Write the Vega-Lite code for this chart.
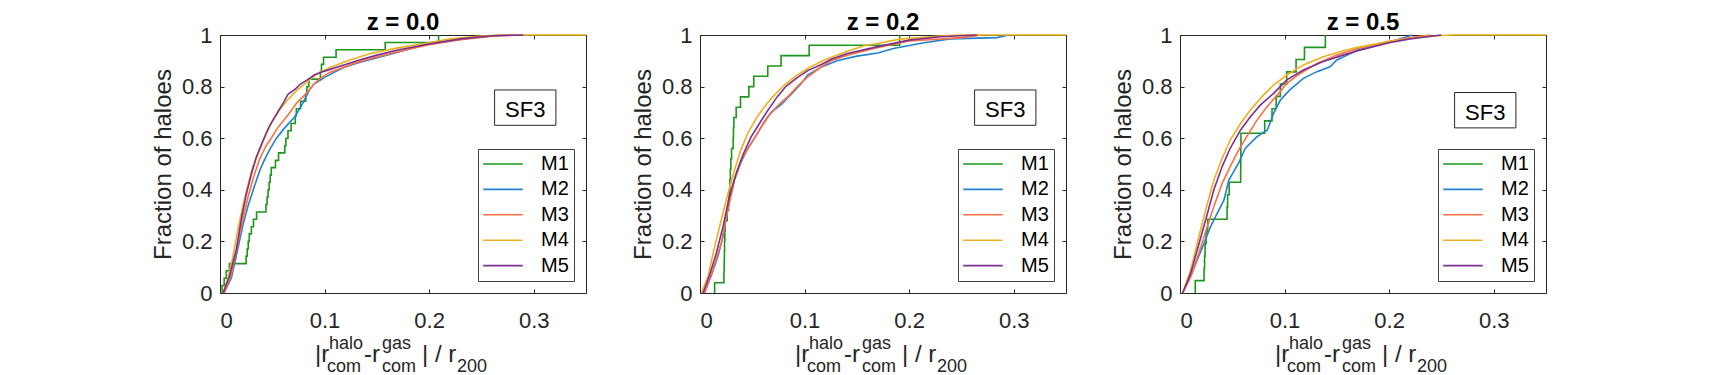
{
 "$schema": "https://vega.github.io/schema/vega-lite/v6.json",
 "background": "white",
 "padding": {"left": 150, "top": 10, "right": 0, "bottom": 0},
 "bounds": "flush",
 "spacing": 114,
 "datasets": {
  "cdf": [
   {"z":"0.0","m":"M1","x":0.002,"y":0},{"z":"0.0","m":"M1","x":0.002,"y":0.029},{"z":"0.0","m":"M1","x":0.004,"y":0.057},{"z":"0.0","m":"M1","x":0.006,"y":0.086},{"z":"0.0","m":"M1","x":0.009,"y":0.114},{"z":"0.0","m":"M1","x":0.025,"y":0.143},{"z":"0.0","m":"M1","x":0.026,"y":0.171},{"z":"0.0","m":"M1","x":0.027,"y":0.2},{"z":"0.0","m":"M1","x":0.028,"y":0.229},{"z":"0.0","m":"M1","x":0.03,"y":0.257},{"z":"0.0","m":"M1","x":0.032,"y":0.286},{"z":"0.0","m":"M1","x":0.035,"y":0.314},{"z":"0.0","m":"M1","x":0.044,"y":0.343},{"z":"0.0","m":"M1","x":0.045,"y":0.371},{"z":"0.0","m":"M1","x":0.046,"y":0.4},{"z":"0.0","m":"M1","x":0.047,"y":0.429},{"z":"0.0","m":"M1","x":0.048,"y":0.457},{"z":"0.0","m":"M1","x":0.049,"y":0.486},{"z":"0.0","m":"M1","x":0.053,"y":0.514},{"z":"0.0","m":"M1","x":0.056,"y":0.543},{"z":"0.0","m":"M1","x":0.062,"y":0.571},{"z":"0.0","m":"M1","x":0.063,"y":0.6},{"z":"0.0","m":"M1","x":0.065,"y":0.629},{"z":"0.0","m":"M1","x":0.068,"y":0.657},{"z":"0.0","m":"M1","x":0.072,"y":0.686},{"z":"0.0","m":"M1","x":0.073,"y":0.714},{"z":"0.0","m":"M1","x":0.077,"y":0.743},{"z":"0.0","m":"M1","x":0.082,"y":0.771},{"z":"0.0","m":"M1","x":0.083,"y":0.8},{"z":"0.0","m":"M1","x":0.085,"y":0.829},{"z":"0.0","m":"M1","x":0.096,"y":0.857},{"z":"0.0","m":"M1","x":0.097,"y":0.886},{"z":"0.0","m":"M1","x":0.099,"y":0.914},{"z":"0.0","m":"M1","x":0.111,"y":0.943},{"z":"0.0","m":"M1","x":0.158,"y":0.971},{"z":"0.0","m":"M1","x":0.209,"y":1.0},
   {"z":"0.0","m":"M2","x":0.004,"y":0},{"z":"0.0","m":"M2","x":0.011,"y":0.06},{"z":"0.0","m":"M2","x":0.017,"y":0.17},{"z":"0.0","m":"M2","x":0.022,"y":0.265},{"z":"0.0","m":"M2","x":0.027,"y":0.34},{"z":"0.0","m":"M2","x":0.033,"y":0.415},{"z":"0.0","m":"M2","x":0.038,"y":0.475},{"z":"0.0","m":"M2","x":0.0425,"y":0.516},{"z":"0.0","m":"M2","x":0.048,"y":0.56},{"z":"0.0","m":"M2","x":0.054,"y":0.6},{"z":"0.0","m":"M2","x":0.0616,"y":0.639},{"z":"0.0","m":"M2","x":0.071,"y":0.68},{"z":"0.0","m":"M2","x":0.077,"y":0.72},{"z":"0.0","m":"M2","x":0.0806,"y":0.748},{"z":"0.0","m":"M2","x":0.086,"y":0.79},{"z":"0.0","m":"M2","x":0.09,"y":0.81},{"z":"0.0","m":"M2","x":0.0997,"y":0.835},{"z":"0.0","m":"M2","x":0.11,"y":0.857},{"z":"0.0","m":"M2","x":0.119,"y":0.875},{"z":"0.0","m":"M2","x":0.13,"y":0.89},{"z":"0.0","m":"M2","x":0.144,"y":0.905},{"z":"0.0","m":"M2","x":0.163,"y":0.925},{"z":"0.0","m":"M2","x":0.18,"y":0.945},{"z":"0.0","m":"M2","x":0.198,"y":0.965},{"z":"0.0","m":"M2","x":0.233,"y":0.985},{"z":"0.0","m":"M2","x":0.27,"y":1.0},
   {"z":"0.0","m":"M3","x":0.004,"y":0},{"z":"0.0","m":"M3","x":0.011,"y":0.075},{"z":"0.0","m":"M3","x":0.017,"y":0.19},{"z":"0.0","m":"M3","x":0.022,"y":0.29},{"z":"0.0","m":"M3","x":0.027,"y":0.375},{"z":"0.0","m":"M3","x":0.033,"y":0.46},{"z":"0.0","m":"M3","x":0.038,"y":0.52},{"z":"0.0","m":"M3","x":0.044,"y":0.57},{"z":"0.0","m":"M3","x":0.049,"y":0.6},{"z":"0.0","m":"M3","x":0.055,"y":0.64},{"z":"0.0","m":"M3","x":0.065,"y":0.69},{"z":"0.0","m":"M3","x":0.074,"y":0.74},{"z":"0.0","m":"M3","x":0.0806,"y":0.765},{"z":"0.0","m":"M3","x":0.09,"y":0.81},{"z":"0.0","m":"M3","x":0.0965,"y":0.835},{"z":"0.0","m":"M3","x":0.105,"y":0.855},{"z":"0.0","m":"M3","x":0.112,"y":0.865},{"z":"0.0","m":"M3","x":0.128,"y":0.89},{"z":"0.0","m":"M3","x":0.147,"y":0.912},{"z":"0.0","m":"M3","x":0.17,"y":0.935},{"z":"0.0","m":"M3","x":0.2,"y":0.962},{"z":"0.0","m":"M3","x":0.23,"y":0.982},{"z":"0.0","m":"M3","x":0.26,"y":0.995},{"z":"0.0","m":"M3","x":0.28,"y":1.0},
   {"z":"0.0","m":"M4","x":0.003,"y":0},{"z":"0.0","m":"M4","x":0.0076,"y":0.058},{"z":"0.0","m":"M4","x":0.0124,"y":0.142},{"z":"0.0","m":"M4","x":0.017,"y":0.245},{"z":"0.0","m":"M4","x":0.022,"y":0.34},{"z":"0.0","m":"M4","x":0.0267,"y":0.42},{"z":"0.0","m":"M4","x":0.031,"y":0.485},{"z":"0.0","m":"M4","x":0.038,"y":0.555},{"z":"0.0","m":"M4","x":0.044,"y":0.615},{"z":"0.0","m":"M4","x":0.05,"y":0.665},{"z":"0.0","m":"M4","x":0.057,"y":0.71},{"z":"0.0","m":"M4","x":0.065,"y":0.75},{"z":"0.0","m":"M4","x":0.074,"y":0.787},{"z":"0.0","m":"M4","x":0.084,"y":0.82},{"z":"0.0","m":"M4","x":0.093,"y":0.85},{"z":"0.0","m":"M4","x":0.106,"y":0.875},{"z":"0.0","m":"M4","x":0.122,"y":0.9},{"z":"0.0","m":"M4","x":0.144,"y":0.928},{"z":"0.0","m":"M4","x":0.17,"y":0.95},{"z":"0.0","m":"M4","x":0.2,"y":0.97},{"z":"0.0","m":"M4","x":0.22,"y":0.985},{"z":"0.0","m":"M4","x":0.25,"y":0.996},{"z":"0.0","m":"M4","x":0.27,"y":1.0},{"z":"0.0","m":"M4","x":0.35,"y":1.0},
   {"z":"0.0","m":"M5","x":0.003,"y":0},{"z":"0.0","m":"M5","x":0.009,"y":0.065},{"z":"0.0","m":"M5","x":0.0156,"y":0.168},{"z":"0.0","m":"M5","x":0.0203,"y":0.284},{"z":"0.0","m":"M5","x":0.025,"y":0.38},{"z":"0.0","m":"M5","x":0.03,"y":0.46},{"z":"0.0","m":"M5","x":0.0346,"y":0.525},{"z":"0.0","m":"M5","x":0.041,"y":0.59},{"z":"0.0","m":"M5","x":0.047,"y":0.645},{"z":"0.0","m":"M5","x":0.055,"y":0.7},{"z":"0.0","m":"M5","x":0.061,"y":0.74},{"z":"0.0","m":"M5","x":0.065,"y":0.77},{"z":"0.0","m":"M5","x":0.072,"y":0.79},{"z":"0.0","m":"M5","x":0.077,"y":0.81},{"z":"0.0","m":"M5","x":0.085,"y":0.83},{"z":"0.0","m":"M5","x":0.09,"y":0.845},{"z":"0.0","m":"M5","x":0.1,"y":0.86},{"z":"0.0","m":"M5","x":0.1155,"y":0.88},{"z":"0.0","m":"M5","x":0.131,"y":0.9},{"z":"0.0","m":"M5","x":0.15,"y":0.922},{"z":"0.0","m":"M5","x":0.17,"y":0.942},{"z":"0.0","m":"M5","x":0.2,"y":0.965},{"z":"0.0","m":"M5","x":0.23,"y":0.985},{"z":"0.0","m":"M5","x":0.26,"y":0.997},{"z":"0.0","m":"M5","x":0.29,"y":1.0},

   {"z":"0.2","m":"M1","x":0.014,"y":0},{"z":"0.2","m":"M1","x":0.014,"y":0.04},{"z":"0.2","m":"M1","x":0.0229,"y":0.08},{"z":"0.2","m":"M1","x":0.0231,"y":0.12},{"z":"0.2","m":"M1","x":0.0233,"y":0.16},{"z":"0.2","m":"M1","x":0.0235,"y":0.2},{"z":"0.2","m":"M1","x":0.0237,"y":0.24},{"z":"0.2","m":"M1","x":0.024,"y":0.28},{"z":"0.2","m":"M1","x":0.026,"y":0.32},{"z":"0.2","m":"M1","x":0.0273,"y":0.36},{"z":"0.2","m":"M1","x":0.028,"y":0.4},{"z":"0.2","m":"M1","x":0.0286,"y":0.44},{"z":"0.2","m":"M1","x":0.029,"y":0.48},{"z":"0.2","m":"M1","x":0.0295,"y":0.52},{"z":"0.2","m":"M1","x":0.0302,"y":0.56},{"z":"0.2","m":"M1","x":0.0317,"y":0.6},{"z":"0.2","m":"M1","x":0.032,"y":0.64},{"z":"0.2","m":"M1","x":0.0324,"y":0.68},{"z":"0.2","m":"M1","x":0.0346,"y":0.72},{"z":"0.2","m":"M1","x":0.0387,"y":0.76},{"z":"0.2","m":"M1","x":0.0467,"y":0.8},{"z":"0.2","m":"M1","x":0.0514,"y":0.84},{"z":"0.2","m":"M1","x":0.0648,"y":0.88},{"z":"0.2","m":"M1","x":0.0775,"y":0.92},{"z":"0.2","m":"M1","x":0.1044,"y":0.96},{"z":"0.2","m":"M1","x":0.191,"y":1.0},
   {"z":"0.2","m":"M2","x":0.0044,"y":0},{"z":"0.2","m":"M2","x":0.0124,"y":0.085},{"z":"0.2","m":"M2","x":0.017,"y":0.14},{"z":"0.2","m":"M2","x":0.022,"y":0.218},{"z":"0.2","m":"M2","x":0.025,"y":0.29},{"z":"0.2","m":"M2","x":0.028,"y":0.36},{"z":"0.2","m":"M2","x":0.033,"y":0.44},{"z":"0.2","m":"M2","x":0.039,"y":0.505},{"z":"0.2","m":"M2","x":0.0457,"y":0.56},{"z":"0.2","m":"M2","x":0.0537,"y":0.61},{"z":"0.2","m":"M2","x":0.0616,"y":0.665},{"z":"0.2","m":"M2","x":0.068,"y":0.7},{"z":"0.2","m":"M2","x":0.0775,"y":0.73},{"z":"0.2","m":"M2","x":0.087,"y":0.77},{"z":"0.2","m":"M2","x":0.0965,"y":0.81},{"z":"0.2","m":"M2","x":0.103,"y":0.845},{"z":"0.2","m":"M2","x":0.1156,"y":0.875},{"z":"0.2","m":"M2","x":0.131,"y":0.9},{"z":"0.2","m":"M2","x":0.15,"y":0.918},{"z":"0.2","m":"M2","x":0.17,"y":0.93},{"z":"0.2","m":"M2","x":0.185,"y":0.948},{"z":"0.2","m":"M2","x":0.214,"y":0.97},{"z":"0.2","m":"M2","x":0.239,"y":0.985},{"z":"0.2","m":"M2","x":0.284,"y":0.99},{"z":"0.2","m":"M2","x":0.295,"y":1.0},
   {"z":"0.2","m":"M3","x":0.0044,"y":0},{"z":"0.2","m":"M3","x":0.0124,"y":0.09},{"z":"0.2","m":"M3","x":0.0203,"y":0.193},{"z":"0.2","m":"M3","x":0.0267,"y":0.322},{"z":"0.2","m":"M3","x":0.033,"y":0.438},{"z":"0.2","m":"M3","x":0.041,"y":0.528},{"z":"0.2","m":"M3","x":0.049,"y":0.58},{"z":"0.2","m":"M3","x":0.057,"y":0.632},{"z":"0.2","m":"M3","x":0.065,"y":0.683},{"z":"0.2","m":"M3","x":0.074,"y":0.725},{"z":"0.2","m":"M3","x":0.084,"y":0.761},{"z":"0.2","m":"M3","x":0.093,"y":0.8},{"z":"0.2","m":"M3","x":0.103,"y":0.838},{"z":"0.2","m":"M3","x":0.1156,"y":0.875},{"z":"0.2","m":"M3","x":0.125,"y":0.9},{"z":"0.2","m":"M3","x":0.141,"y":0.922},{"z":"0.2","m":"M3","x":0.166,"y":0.948},{"z":"0.2","m":"M3","x":0.2,"y":0.977},{"z":"0.2","m":"M3","x":0.25,"y":0.99},{"z":"0.2","m":"M3","x":0.27,"y":1.0},
   {"z":"0.2","m":"M4","x":0.0013,"y":0},{"z":"0.2","m":"M4","x":0.0076,"y":0.063},{"z":"0.2","m":"M4","x":0.014,"y":0.18},{"z":"0.2","m":"M4","x":0.0203,"y":0.283},{"z":"0.2","m":"M4","x":0.0267,"y":0.386},{"z":"0.2","m":"M4","x":0.033,"y":0.477},{"z":"0.2","m":"M4","x":0.039,"y":0.554},{"z":"0.2","m":"M4","x":0.0457,"y":0.619},{"z":"0.2","m":"M4","x":0.0537,"y":0.677},{"z":"0.2","m":"M4","x":0.0616,"y":0.722},{"z":"0.2","m":"M4","x":0.071,"y":0.767},{"z":"0.2","m":"M4","x":0.0806,"y":0.806},{"z":"0.2","m":"M4","x":0.093,"y":0.845},{"z":"0.2","m":"M4","x":0.106,"y":0.877},{"z":"0.2","m":"M4","x":0.119,"y":0.903},{"z":"0.2","m":"M4","x":0.141,"y":0.937},{"z":"0.2","m":"M4","x":0.157,"y":0.958},{"z":"0.2","m":"M4","x":0.17,"y":0.967},{"z":"0.2","m":"M4","x":0.191,"y":0.984},{"z":"0.2","m":"M4","x":0.229,"y":0.996},{"z":"0.2","m":"M4","x":0.25,"y":1.0},{"z":"0.2","m":"M4","x":0.35,"y":1.0},
   {"z":"0.2","m":"M5","x":0.0029,"y":0},{"z":"0.2","m":"M5","x":0.0092,"y":0.07},{"z":"0.2","m":"M5","x":0.0156,"y":0.154},{"z":"0.2","m":"M5","x":0.022,"y":0.257},{"z":"0.2","m":"M5","x":0.028,"y":0.373},{"z":"0.2","m":"M5","x":0.0346,"y":0.464},{"z":"0.2","m":"M5","x":0.041,"y":0.535},{"z":"0.2","m":"M5","x":0.049,"y":0.606},{"z":"0.2","m":"M5","x":0.057,"y":0.658},{"z":"0.2","m":"M5","x":0.065,"y":0.709},{"z":"0.2","m":"M5","x":0.074,"y":0.761},{"z":"0.2","m":"M5","x":0.082,"y":0.8},{"z":"0.2","m":"M5","x":0.093,"y":0.835},{"z":"0.2","m":"M5","x":0.103,"y":0.862},{"z":"0.2","m":"M5","x":0.1156,"y":0.885},{"z":"0.2","m":"M5","x":0.125,"y":0.905},{"z":"0.2","m":"M5","x":0.141,"y":0.928},{"z":"0.2","m":"M5","x":0.17,"y":0.955},{"z":"0.2","m":"M5","x":0.2,"y":0.98},{"z":"0.2","m":"M5","x":0.23,"y":0.993},{"z":"0.2","m":"M5","x":0.265,"y":1.0},

   {"z":"0.5","m":"M1","x":0.0146,"y":0},{"z":"0.5","m":"M1","x":0.0146,"y":0.048},{"z":"0.5","m":"M1","x":0.023,"y":0.095},{"z":"0.5","m":"M1","x":0.0235,"y":0.143},{"z":"0.5","m":"M1","x":0.024,"y":0.19},{"z":"0.5","m":"M1","x":0.025,"y":0.238},{"z":"0.5","m":"M1","x":0.0265,"y":0.286},{"z":"0.5","m":"M1","x":0.045,"y":0.333},{"z":"0.5","m":"M1","x":0.0455,"y":0.381},{"z":"0.5","m":"M1","x":0.047,"y":0.429},{"z":"0.5","m":"M1","x":0.058,"y":0.476},{"z":"0.5","m":"M1","x":0.0581,"y":0.524},{"z":"0.5","m":"M1","x":0.0582,"y":0.571},{"z":"0.5","m":"M1","x":0.0583,"y":0.619},{"z":"0.5","m":"M1","x":0.081,"y":0.667},{"z":"0.5","m":"M1","x":0.088,"y":0.714},{"z":"0.5","m":"M1","x":0.092,"y":0.762},{"z":"0.5","m":"M1","x":0.096,"y":0.81},{"z":"0.5","m":"M1","x":0.102,"y":0.857},{"z":"0.5","m":"M1","x":0.111,"y":0.905},{"z":"0.5","m":"M1","x":0.119,"y":0.952},{"z":"0.5","m":"M1","x":0.139,"y":1.0},
   {"z":"0.5","m":"M2","x":0.0025,"y":0},{"z":"0.5","m":"M2","x":0.0102,"y":0.063},{"z":"0.5","m":"M2","x":0.0165,"y":0.128},{"z":"0.5","m":"M2","x":0.023,"y":0.193},{"z":"0.5","m":"M2","x":0.0292,"y":0.257},{"z":"0.5","m":"M2","x":0.034,"y":0.296},{"z":"0.5","m":"M2","x":0.042,"y":0.36},{"z":"0.5","m":"M2","x":0.0467,"y":0.438},{"z":"0.5","m":"M2","x":0.056,"y":0.503},{"z":"0.5","m":"M2","x":0.0625,"y":0.561},{"z":"0.5","m":"M2","x":0.0737,"y":0.606},{"z":"0.5","m":"M2","x":0.0835,"y":0.632},{"z":"0.5","m":"M2","x":0.0895,"y":0.696},{"z":"0.5","m":"M2","x":0.096,"y":0.748},{"z":"0.5","m":"M2","x":0.105,"y":0.787},{"z":"0.5","m":"M2","x":0.118,"y":0.832},{"z":"0.5","m":"M2","x":0.131,"y":0.858},{"z":"0.5","m":"M2","x":0.1435,"y":0.877},{"z":"0.5","m":"M2","x":0.15,"y":0.903},{"z":"0.5","m":"M2","x":0.16,"y":0.922},{"z":"0.5","m":"M2","x":0.17,"y":0.942},{"z":"0.5","m":"M2","x":0.201,"y":0.974},{"z":"0.5","m":"M2","x":0.217,"y":0.993},{"z":"0.5","m":"M2","x":0.222,"y":1.0},
   {"z":"0.5","m":"M3","x":0.0025,"y":0},{"z":"0.5","m":"M3","x":0.0102,"y":0.063},{"z":"0.5","m":"M3","x":0.018,"y":0.154},{"z":"0.5","m":"M3","x":0.026,"y":0.257},{"z":"0.5","m":"M3","x":0.0324,"y":0.335},{"z":"0.5","m":"M3","x":0.0403,"y":0.425},{"z":"0.5","m":"M3","x":0.048,"y":0.49},{"z":"0.5","m":"M3","x":0.056,"y":0.554},{"z":"0.5","m":"M3","x":0.0638,"y":0.606},{"z":"0.5","m":"M3","x":0.0737,"y":0.67},{"z":"0.5","m":"M3","x":0.0832,"y":0.722},{"z":"0.5","m":"M3","x":0.093,"y":0.767},{"z":"0.5","m":"M3","x":0.1022,"y":0.813},{"z":"0.5","m":"M3","x":0.115,"y":0.851},{"z":"0.5","m":"M3","x":0.131,"y":0.89},{"z":"0.5","m":"M3","x":0.15,"y":0.922},{"z":"0.5","m":"M3","x":0.17,"y":0.948},{"z":"0.5","m":"M3","x":0.2,"y":0.975},{"z":"0.5","m":"M3","x":0.22,"y":0.99},{"z":"0.5","m":"M3","x":0.24,"y":1.0},
   {"z":"0.5","m":"M4","x":0.0025,"y":0},{"z":"0.5","m":"M4","x":0.0102,"y":0.089},{"z":"0.5","m":"M4","x":0.0165,"y":0.193},{"z":"0.5","m":"M4","x":0.0245,"y":0.322},{"z":"0.5","m":"M4","x":0.0324,"y":0.438},{"z":"0.5","m":"M4","x":0.0403,"y":0.522},{"z":"0.5","m":"M4","x":0.048,"y":0.593},{"z":"0.5","m":"M4","x":0.058,"y":0.658},{"z":"0.5","m":"M4","x":0.0673,"y":0.709},{"z":"0.5","m":"M4","x":0.0784,"y":0.761},{"z":"0.5","m":"M4","x":0.0895,"y":0.806},{"z":"0.5","m":"M4","x":0.1022,"y":0.845},{"z":"0.5","m":"M4","x":0.118,"y":0.884},{"z":"0.5","m":"M4","x":0.137,"y":0.916},{"z":"0.5","m":"M4","x":0.156,"y":0.939},{"z":"0.5","m":"M4","x":0.17,"y":0.952},{"z":"0.5","m":"M4","x":0.2,"y":0.976},{"z":"0.5","m":"M4","x":0.23,"y":0.993},{"z":"0.5","m":"M4","x":0.26,"y":1.0},{"z":"0.5","m":"M4","x":0.35,"y":1.0},
   {"z":"0.5","m":"M5","x":0.0025,"y":0},{"z":"0.5","m":"M5","x":0.0102,"y":0.076},{"z":"0.5","m":"M5","x":0.0165,"y":0.167},{"z":"0.5","m":"M5","x":0.0245,"y":0.283},{"z":"0.5","m":"M5","x":0.0324,"y":0.4},{"z":"0.5","m":"M5","x":0.0403,"y":0.49},{"z":"0.5","m":"M5","x":0.048,"y":0.561},{"z":"0.5","m":"M5","x":0.058,"y":0.632},{"z":"0.5","m":"M5","x":0.0673,"y":0.683},{"z":"0.5","m":"M5","x":0.077,"y":0.729},{"z":"0.5","m":"M5","x":0.0895,"y":0.774},{"z":"0.5","m":"M5","x":0.1022,"y":0.826},{"z":"0.5","m":"M5","x":0.118,"y":0.864},{"z":"0.5","m":"M5","x":0.137,"y":0.897},{"z":"0.5","m":"M5","x":0.156,"y":0.922},{"z":"0.5","m":"M5","x":0.17,"y":0.939},{"z":"0.5","m":"M5","x":0.2,"y":0.97},{"z":"0.5","m":"M5","x":0.22,"y":0.985},{"z":"0.5","m":"M5","x":0.25,"y":1.0}
  ]
 },
 "hconcat": [
  {
   "width": 366, "height": 258,
   "title": {"text": "z = 0.0"},
   "resolve": {"axis": {"x": "independent", "y": "independent"}},
   "layer": [
    {"data": {"name": "cdf"}, "transform": [{"filter": "datum.z == '0.0' && datum.m == 'M1'"}],
     "mark": {"type": "line", "interpolate": "step-after"},
     "encoding": {
      "x": {"field": "x", "type": "quantitative", "scale": {"domain": [0, 0.35], "nice": false, "zero": false}, "axis": null},
      "y": {"field": "y", "type": "quantitative", "scale": {"domain": [0, 1], "nice": false}, "axis": null},
      "order": {"field": "y", "type": "quantitative"},
      "color": {"field": "m", "type": "nominal", "scale": {"domain": ["M1","M2","M3","M4","M5"], "range": ["#1c961c","#2280d0","#fe7043","#edb120","#7e2f8e"]}}
     }},
    {"data": {"name": "cdf"}, "transform": [{"filter": "datum.z == '0.0' && datum.m != 'M1'"}],
     "mark": {"type": "line"},
     "encoding": {
      "x": {"field": "x", "type": "quantitative", "scale": {"domain": [0, 0.35], "nice": false, "zero": false}, "axis": {"values": [0, 0.1, 0.2, 0.3], "format": "~g", "title": null}},
      "y": {"field": "y", "type": "quantitative", "scale": {"domain": [0, 1], "nice": false}, "axis": {"values": [0, 0.2, 0.4, 0.6, 0.8, 1], "format": "~g", "title": "Fraction of haloes"}},
      "color": {"field": "m", "type": "nominal", "scale": {"domain": ["M1","M2","M3","M4","M5"], "range": ["#1c961c","#2280d0","#fe7043","#edb120","#7e2f8e"]}}
     }},
    {"data": {"values": [{}]}, "mark": {"type": "rect", "fill": "white", "stroke": "#262626", "strokeWidth": 1},
     "encoding": {
      "x": {"datum": 0.2626, "type": "quantitative", "axis": {"orient": "top", "labels": false, "title": null, "grid": false, "values": [0, 0.1, 0.2, 0.3]}},
      "x2": {"datum": 0.3212},
      "y": {"datum": 0.787, "type": "quantitative", "axis": {"orient": "right", "labels": false, "title": null, "grid": false, "values": [0, 0.2, 0.4, 0.6, 0.8, 1]}},
      "y2": {"datum": 0.65}
     }},
    {"data": {"values": [{}]}, "mark": {"type": "text", "text": "SF3", "fontSize": 22, "align": "center", "baseline": "alphabetic", "color": "#000000"},
     "encoding": {"x": {"datum": 0.2919, "type": "quantitative", "axis": null}, "y": {"datum": 0.681, "type": "quantitative", "axis": null}}},
    {"data": {"values": [{}]}, "mark": {"type": "text", "text": "|r", "fontSize": 24, "align": "left", "baseline": "alphabetic", "dx": -88, "dy": 69},
     "encoding": {"x": {"datum": 0.175, "type": "quantitative", "axis": null}, "y": {"datum": 0, "type": "quantitative", "axis": null}}},
    {"data": {"values": [{}]}, "mark": {"type": "text", "text": "halo", "fontSize": 18, "align": "left", "baseline": "alphabetic", "dx": -74, "dy": 56},
     "encoding": {"x": {"datum": 0.175, "type": "quantitative", "axis": null}, "y": {"datum": 0, "type": "quantitative", "axis": null}}},
    {"data": {"values": [{}]}, "mark": {"type": "text", "text": "com", "fontSize": 18, "align": "left", "baseline": "alphabetic", "dx": -76, "dy": 79},
     "encoding": {"x": {"datum": 0.175, "type": "quantitative", "axis": null}, "y": {"datum": 0, "type": "quantitative", "axis": null}}},
    {"data": {"values": [{}]}, "mark": {"type": "text", "text": "-r", "fontSize": 24, "align": "left", "baseline": "alphabetic", "dx": -39, "dy": 69},
     "encoding": {"x": {"datum": 0.175, "type": "quantitative", "axis": null}, "y": {"datum": 0, "type": "quantitative", "axis": null}}},
    {"data": {"values": [{}]}, "mark": {"type": "text", "text": "gas", "fontSize": 18, "align": "left", "baseline": "alphabetic", "dx": -21, "dy": 56},
     "encoding": {"x": {"datum": 0.175, "type": "quantitative", "axis": null}, "y": {"datum": 0, "type": "quantitative", "axis": null}}},
    {"data": {"values": [{}]}, "mark": {"type": "text", "text": "com", "fontSize": 18, "align": "left", "baseline": "alphabetic", "dx": -21, "dy": 79},
     "encoding": {"x": {"datum": 0.175, "type": "quantitative", "axis": null}, "y": {"datum": 0, "type": "quantitative", "axis": null}}},
    {"data": {"values": [{}]}, "mark": {"type": "text", "text": "| / r", "fontSize": 24, "align": "left", "baseline": "alphabetic", "dx": 19, "dy": 69},
     "encoding": {"x": {"datum": 0.175, "type": "quantitative", "axis": null}, "y": {"datum": 0, "type": "quantitative", "axis": null}}},
    {"data": {"values": [{}]}, "mark": {"type": "text", "text": "200", "fontSize": 18, "align": "left", "baseline": "alphabetic", "dx": 54, "dy": 79},
     "encoding": {"x": {"datum": 0.175, "type": "quantitative", "axis": null}, "y": {"datum": 0, "type": "quantitative", "axis": null}}}
   ]
  },
  {
   "width": 366, "height": 258,
   "title": {"text": "z = 0.2"},
   "resolve": {"axis": {"x": "independent", "y": "independent"}},
   "layer": [
    {"data": {"name": "cdf"}, "transform": [{"filter": "datum.z == '0.2' && datum.m == 'M1'"}],
     "mark": {"type": "line", "interpolate": "step-after"},
     "encoding": {
      "x": {"field": "x", "type": "quantitative", "scale": {"domain": [0, 0.35], "nice": false, "zero": false}, "axis": null},
      "y": {"field": "y", "type": "quantitative", "scale": {"domain": [0, 1], "nice": false}, "axis": null},
      "order": {"field": "y", "type": "quantitative"},
      "color": {"field": "m", "type": "nominal", "scale": {"domain": ["M1","M2","M3","M4","M5"], "range": ["#1c961c","#2280d0","#fe7043","#edb120","#7e2f8e"]}}
     }},
    {"data": {"name": "cdf"}, "transform": [{"filter": "datum.z == '0.2' && datum.m != 'M1'"}],
     "mark": {"type": "line"},
     "encoding": {
      "x": {"field": "x", "type": "quantitative", "scale": {"domain": [0, 0.35], "nice": false, "zero": false}, "axis": {"values": [0, 0.1, 0.2, 0.3], "format": "~g", "title": null}},
      "y": {"field": "y", "type": "quantitative", "scale": {"domain": [0, 1], "nice": false}, "axis": {"values": [0, 0.2, 0.4, 0.6, 0.8, 1], "format": "~g", "title": "Fraction of haloes"}},
      "color": {"field": "m", "type": "nominal", "scale": {"domain": ["M1","M2","M3","M4","M5"], "range": ["#1c961c","#2280d0","#fe7043","#edb120","#7e2f8e"]}}
     }},
    {"data": {"values": [{}]}, "mark": {"type": "rect", "fill": "white", "stroke": "#262626", "strokeWidth": 1},
     "encoding": {
      "x": {"datum": 0.2626, "type": "quantitative", "axis": {"orient": "top", "labels": false, "title": null, "grid": false, "values": [0, 0.1, 0.2, 0.3]}},
      "x2": {"datum": 0.3212},
      "y": {"datum": 0.787, "type": "quantitative", "axis": {"orient": "right", "labels": false, "title": null, "grid": false, "values": [0, 0.2, 0.4, 0.6, 0.8, 1]}},
      "y2": {"datum": 0.65}
     }},
    {"data": {"values": [{}]}, "mark": {"type": "text", "text": "SF3", "fontSize": 22, "align": "center", "baseline": "alphabetic", "color": "#000000"},
     "encoding": {"x": {"datum": 0.2919, "type": "quantitative", "axis": null}, "y": {"datum": 0.681, "type": "quantitative", "axis": null}}},
    {"data": {"values": [{}]}, "mark": {"type": "text", "text": "|r", "fontSize": 24, "align": "left", "baseline": "alphabetic", "dx": -88, "dy": 69},
     "encoding": {"x": {"datum": 0.175, "type": "quantitative", "axis": null}, "y": {"datum": 0, "type": "quantitative", "axis": null}}},
    {"data": {"values": [{}]}, "mark": {"type": "text", "text": "halo", "fontSize": 18, "align": "left", "baseline": "alphabetic", "dx": -74, "dy": 56},
     "encoding": {"x": {"datum": 0.175, "type": "quantitative", "axis": null}, "y": {"datum": 0, "type": "quantitative", "axis": null}}},
    {"data": {"values": [{}]}, "mark": {"type": "text", "text": "com", "fontSize": 18, "align": "left", "baseline": "alphabetic", "dx": -76, "dy": 79},
     "encoding": {"x": {"datum": 0.175, "type": "quantitative", "axis": null}, "y": {"datum": 0, "type": "quantitative", "axis": null}}},
    {"data": {"values": [{}]}, "mark": {"type": "text", "text": "-r", "fontSize": 24, "align": "left", "baseline": "alphabetic", "dx": -39, "dy": 69},
     "encoding": {"x": {"datum": 0.175, "type": "quantitative", "axis": null}, "y": {"datum": 0, "type": "quantitative", "axis": null}}},
    {"data": {"values": [{}]}, "mark": {"type": "text", "text": "gas", "fontSize": 18, "align": "left", "baseline": "alphabetic", "dx": -21, "dy": 56},
     "encoding": {"x": {"datum": 0.175, "type": "quantitative", "axis": null}, "y": {"datum": 0, "type": "quantitative", "axis": null}}},
    {"data": {"values": [{}]}, "mark": {"type": "text", "text": "com", "fontSize": 18, "align": "left", "baseline": "alphabetic", "dx": -21, "dy": 79},
     "encoding": {"x": {"datum": 0.175, "type": "quantitative", "axis": null}, "y": {"datum": 0, "type": "quantitative", "axis": null}}},
    {"data": {"values": [{}]}, "mark": {"type": "text", "text": "| / r", "fontSize": 24, "align": "left", "baseline": "alphabetic", "dx": 19, "dy": 69},
     "encoding": {"x": {"datum": 0.175, "type": "quantitative", "axis": null}, "y": {"datum": 0, "type": "quantitative", "axis": null}}},
    {"data": {"values": [{}]}, "mark": {"type": "text", "text": "200", "fontSize": 18, "align": "left", "baseline": "alphabetic", "dx": 54, "dy": 79},
     "encoding": {"x": {"datum": 0.175, "type": "quantitative", "axis": null}, "y": {"datum": 0, "type": "quantitative", "axis": null}}}
   ]
  },
  {
   "width": 366, "height": 258,
   "title": {"text": "z = 0.5"},
   "resolve": {"axis": {"x": "independent", "y": "independent"}},
   "layer": [
    {"data": {"name": "cdf"}, "transform": [{"filter": "datum.z == '0.5' && datum.m == 'M1'"}],
     "mark": {"type": "line", "interpolate": "step-after"},
     "encoding": {
      "x": {"field": "x", "type": "quantitative", "scale": {"domain": [0, 0.35], "nice": false, "zero": false}, "axis": null},
      "y": {"field": "y", "type": "quantitative", "scale": {"domain": [0, 1], "nice": false}, "axis": null},
      "order": {"field": "y", "type": "quantitative"},
      "color": {"field": "m", "type": "nominal", "scale": {"domain": ["M1","M2","M3","M4","M5"], "range": ["#1c961c","#2280d0","#fe7043","#edb120","#7e2f8e"]}}
     }},
    {"data": {"name": "cdf"}, "transform": [{"filter": "datum.z == '0.5' && datum.m != 'M1'"}],
     "mark": {"type": "line"},
     "encoding": {
      "x": {"field": "x", "type": "quantitative", "scale": {"domain": [0, 0.35], "nice": false, "zero": false}, "axis": {"values": [0, 0.1, 0.2, 0.3], "format": "~g", "title": null}},
      "y": {"field": "y", "type": "quantitative", "scale": {"domain": [0, 1], "nice": false}, "axis": {"values": [0, 0.2, 0.4, 0.6, 0.8, 1], "format": "~g", "title": "Fraction of haloes"}},
      "color": {"field": "m", "type": "nominal", "scale": {"domain": ["M1","M2","M3","M4","M5"], "range": ["#1c961c","#2280d0","#fe7043","#edb120","#7e2f8e"]}}
     }},
    {"data": {"values": [{}]}, "mark": {"type": "rect", "fill": "white", "stroke": "#262626", "strokeWidth": 1},
     "encoding": {
      "x": {"datum": 0.2626, "type": "quantitative", "axis": {"orient": "top", "labels": false, "title": null, "grid": false, "values": [0, 0.1, 0.2, 0.3]}},
      "x2": {"datum": 0.3212},
      "y": {"datum": 0.777, "type": "quantitative", "axis": {"orient": "right", "labels": false, "title": null, "grid": false, "values": [0, 0.2, 0.4, 0.6, 0.8, 1]}},
      "y2": {"datum": 0.64}
     }},
    {"data": {"values": [{}]}, "mark": {"type": "text", "text": "SF3", "fontSize": 22, "align": "center", "baseline": "alphabetic", "color": "#000000"},
     "encoding": {"x": {"datum": 0.2919, "type": "quantitative", "axis": null}, "y": {"datum": 0.671, "type": "quantitative", "axis": null}}},
    {"data": {"values": [{}]}, "mark": {"type": "text", "text": "|r", "fontSize": 24, "align": "left", "baseline": "alphabetic", "dx": -88, "dy": 69},
     "encoding": {"x": {"datum": 0.175, "type": "quantitative", "axis": null}, "y": {"datum": 0, "type": "quantitative", "axis": null}}},
    {"data": {"values": [{}]}, "mark": {"type": "text", "text": "halo", "fontSize": 18, "align": "left", "baseline": "alphabetic", "dx": -74, "dy": 56},
     "encoding": {"x": {"datum": 0.175, "type": "quantitative", "axis": null}, "y": {"datum": 0, "type": "quantitative", "axis": null}}},
    {"data": {"values": [{}]}, "mark": {"type": "text", "text": "com", "fontSize": 18, "align": "left", "baseline": "alphabetic", "dx": -76, "dy": 79},
     "encoding": {"x": {"datum": 0.175, "type": "quantitative", "axis": null}, "y": {"datum": 0, "type": "quantitative", "axis": null}}},
    {"data": {"values": [{}]}, "mark": {"type": "text", "text": "-r", "fontSize": 24, "align": "left", "baseline": "alphabetic", "dx": -39, "dy": 69},
     "encoding": {"x": {"datum": 0.175, "type": "quantitative", "axis": null}, "y": {"datum": 0, "type": "quantitative", "axis": null}}},
    {"data": {"values": [{}]}, "mark": {"type": "text", "text": "gas", "fontSize": 18, "align": "left", "baseline": "alphabetic", "dx": -21, "dy": 56},
     "encoding": {"x": {"datum": 0.175, "type": "quantitative", "axis": null}, "y": {"datum": 0, "type": "quantitative", "axis": null}}},
    {"data": {"values": [{}]}, "mark": {"type": "text", "text": "com", "fontSize": 18, "align": "left", "baseline": "alphabetic", "dx": -21, "dy": 79},
     "encoding": {"x": {"datum": 0.175, "type": "quantitative", "axis": null}, "y": {"datum": 0, "type": "quantitative", "axis": null}}},
    {"data": {"values": [{}]}, "mark": {"type": "text", "text": "| / r", "fontSize": 24, "align": "left", "baseline": "alphabetic", "dx": 19, "dy": 69},
     "encoding": {"x": {"datum": 0.175, "type": "quantitative", "axis": null}, "y": {"datum": 0, "type": "quantitative", "axis": null}}},
    {"data": {"values": [{}]}, "mark": {"type": "text", "text": "200", "fontSize": 18, "align": "left", "baseline": "alphabetic", "dx": 54, "dy": 79},
     "encoding": {"x": {"datum": 0.175, "type": "quantitative", "axis": null}, "y": {"datum": 0, "type": "quantitative", "axis": null}}}
   ]
  }
 ],
 "resolve": {"legend": {"color": "independent"}, "scale": {"color": "independent"}},
 "config": {
  "font": "Liberation Sans",
  "view": {"stroke": "#262626", "strokeWidth": 1},
  "axis": {"labelFont": "Liberation Sans", "titleFont": "Liberation Sans", "labelFontSize": 22, "titleFontSize": 24, "labelColor": "#262626", "titleColor": "#262626", "titleFontWeight": "normal", "gridColor": "#e3e3e3", "gridWidth": 1, "domain": false, "tickColor": "#262626", "tickSize": -4},
  "axisX": {"labelPadding": 21},
  "axisY": {"labelPadding": 12, "titlePadding": 6},
  "legend": {"orient": "bottom-right", "offset": 12, "title": null, "strokeColor": "#404040", "fillColor": "white", "padding": 5, "symbolType": "M-2.2,0H2.2", "symbolSize": 324, "symbolOffset": 10, "symbolStrokeWidth": 1.6, "labelFont": "Liberation Sans", "labelFontSize": 20, "labelColor": "#000000", "labelOffset": 28, "rowPadding": 5.4},
  "title": {"font": "Liberation Sans", "fontSize": 24, "fontWeight": "bold", "color": "#000000", "offset": -11, "frame": "group", "anchor": "middle"},
  "text": {"font": "Liberation Sans", "color": "#262626"},
  "line": {"strokeWidth": 1.6}
 }
}
